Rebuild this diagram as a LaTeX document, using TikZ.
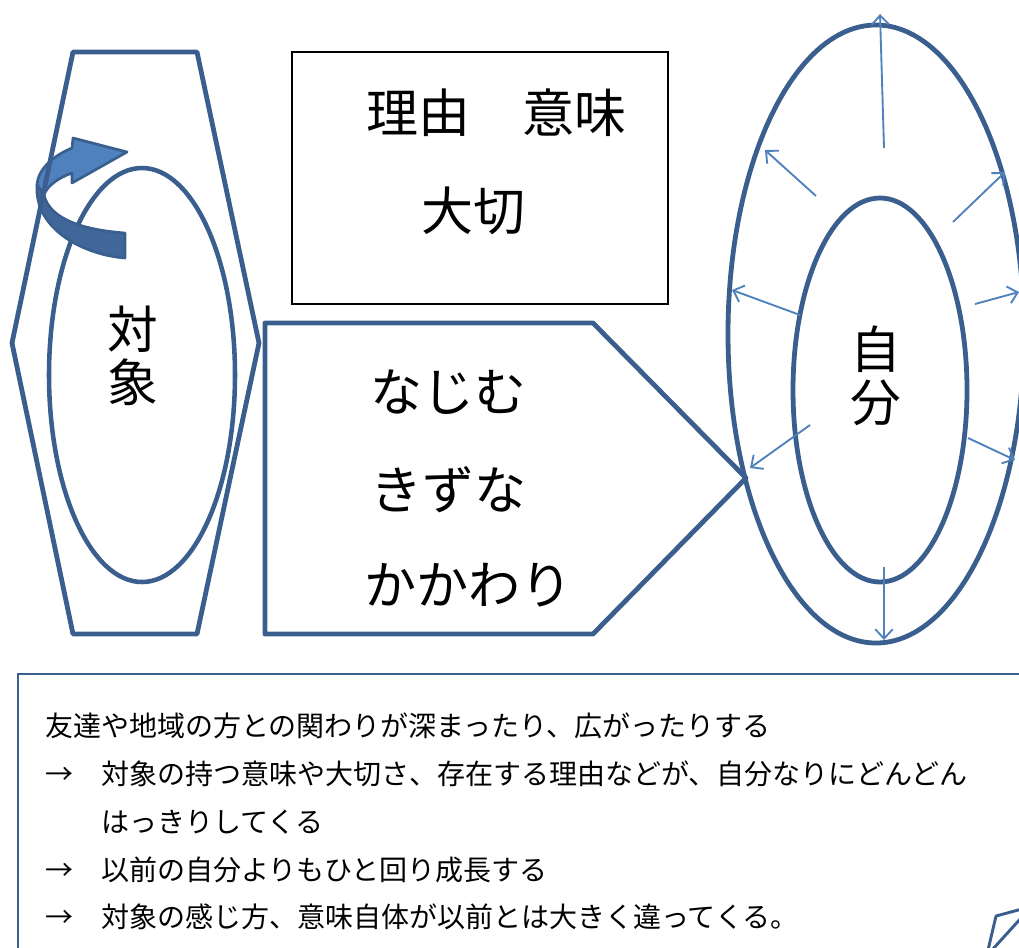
\documentclass[tikz,border=0pt]{standalone}
\usepackage{fontspec}
\setmainfont{Noto Sans CJK JP}
\usetikzlibrary{arrows.meta}
\definecolor{edge}{HTML}{3A5F8E}
\definecolor{lite}{HTML}{4F81BD}
\definecolor{dark}{HTML}{41679A}
\begin{document}
\begin{tikzpicture}[x=0.75pt,y=-0.75pt,
  shapeline/.style={draw=edge,line width=3.6pt,line join=round},
  thinarrow/.style={draw=lite,line width=1.4pt,-{Straight Barb[length=7pt,width=13pt]}},
  bigtext/.style={font=\fontsize{39}{42}\selectfont,inner sep=0pt,anchor=base west},
  vtext/.style={font=\fontsize{38}{40}\selectfont,inner sep=0pt,align=center},
  bodytext/.style={font=\fontsize{21}{24}\selectfont,anchor=base west,inner sep=0pt}]
\useasboundingbox (0,0) rectangle (1019,947);
\clip (0,0) rectangle (1019,947);

% left: ellipse, curved arrow, hexagon
\draw[edge,line width=3.4pt] (142,375) ellipse [x radius=93, y radius=207];
\path[fill=lite, draw=edge, line width=2pt, line join=round]
  (37,185) .. controls (38,168) and (55,155) .. (72,148) -- (73,138) -- (127,152)
  -- (72,183) -- (72,173) .. controls (58,178) and (47,186) .. (44,195) -- cycle;
\path[fill=dark, draw=edge, line width=2pt, line join=round]
  (37,185) .. controls (34,230) and (85,255) .. (125,258) -- (125,233)
  .. controls (85,230) and (50,220) .. (44,195) -- cycle;
\draw[shapeline] (73,52) -- (197,52) -- (259,343) -- (197,634) -- (73,634) -- (12,343) -- cycle;
\node[vtext] (taisho) at (133,356) {対\\象};

% reason box
\draw[black,line width=1.6pt] (292,52) rectangle (668,304);
\node[bigtext] (riyu) at (366,132) {理由　意味};
\node[bigtext] (taisetsu) at (421,230) {大切};

% pentagon arrow
\draw[shapeline] (265,323) -- (593,323) -- (746,478) -- (593,634) -- (265,634) -- cycle;
\node[bigtext] (najimu) at (370,411) {なじむ};
\node[bigtext] (kizuna) at (370,509) {きずな};
\node[bigtext] (kakawari) at (364,604) {かかわり};

% right ellipses
\draw[edge,line width=3.6pt] (876,334) ellipse [x radius=148, y radius=309];
\draw[edge,line width=3.6pt] (880,390) ellipse [x radius=87, y radius=192];
\node[vtext] (jibun) at (876,376) {自\\分};

\coordinate (a1s) at (884,148); \coordinate (a1e) at (880,14);
\coordinate (a2s) at (816,196); \coordinate (a2e) at (765,150);
\coordinate (a3s) at (953,222); \coordinate (a3e) at (1005,172);
\coordinate (a4s) at (800,315); \coordinate (a4e) at (732,290);
\coordinate (a5s) at (975,304); \coordinate (a5e) at (1019,292);
\coordinate (a6s) at (810,425); \coordinate (a6e) at (750,468);
\coordinate (a7s) at (968,438); \coordinate (a7e) at (1015,460);
\coordinate (a8s) at (884,567); \coordinate (a8e) at (884,640);
\foreach \i in {1,...,8} { \draw[thinarrow] (a\i s) -- (a\i e); }

% bottom text box
\draw[edge,line width=1.5pt] (1030,674) -- (18,674) -- (18,960);
\node[bodytext] (l1) at (45,736) {友達や地域の方との関わりが深まったり、広がったりする};
\node[bodytext] (l2) at (45,784) {→　対象の持つ意味や大切さ、存在する理由などが、自分なりにどんどん};
\node[bodytext] (l3) at (101,832) {はっきりしてくる};
\node[bodytext] (l4) at (45,880) {→　以前の自分よりもひと回り成長する};
\node[bodytext] (l5) at (45,927) {→　対象の感じ方、意味自体が以前とは大きく違ってくる。};

% fragment at bottom right
\draw[edge,line width=2.2pt,line join=round] (988,950) -- (996,916) -- (1022,909);
\draw[edge,line width=2.2pt] (992,950) -- (1022,917);
\end{tikzpicture}
\end{document}
